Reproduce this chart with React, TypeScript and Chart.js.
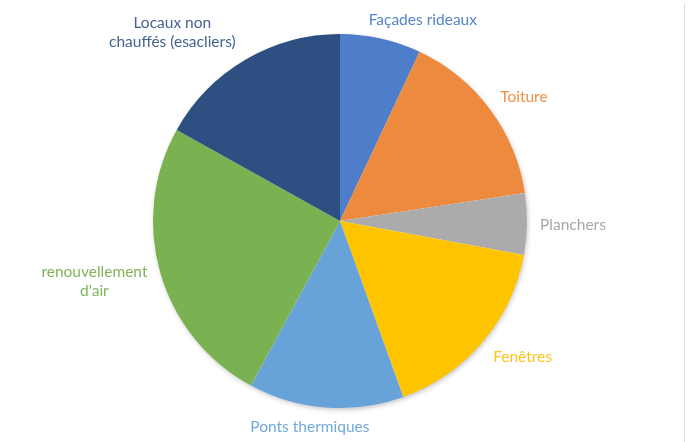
import React, { useEffect, useRef } from "react";
import { Chart, registerables } from "chart.js";

Chart.register(...registerables);

const categories: string[][] = [
  ["Façades rideaux"],
  ["Toiture"],
  ["Planchers"],
  ["Fenêtres"],
  ["Ponts thermiques"],
  ["renouvellement", "d'air"],
  ["Locaux non", "chauffés (esacliers)"],
];
const values: number[] = [7.0, 15.6, 5.3, 16.6, 13.4, 25.2, 16.9];

const sliceColors = ["#4E7DC9", "#ED8A3D", "#ABABAB", "#FFC400", "#67A3D9", "#7BB251", "#2E4F82"];
const labelColors = ["#5583CC", "#EE9048", "#A8A8A8", "#FFC419", "#70A9DC", "#80B55A", "#44628F"];
// label nudges relative to the outer midpoint of each arc
const labelOffsets: [number, number][] = [
  [42, -18.5],
  [34, -12.5],
  [46, 0.7],
  [40, 15.5],
  [-16, 19.6],
  [-66, 8.5],
  [-73, -27],
];

const FONT = '15.5px Lato, sans-serif';
const LINE_H = 19.5;

const labelPlugin = {
  id: "outsideLabels",
  beforeDatasetsDraw(chart: any) {
    const meta = chart.getDatasetMeta(0);
    const arc = meta.data[0];
    if (!arc) return;
    const ctx = chart.ctx;
    ctx.save();
    ctx.shadowColor = "rgba(0,0,0,0.25)";
    ctx.shadowBlur = 5;
    ctx.shadowOffsetX = 1;
    ctx.shadowOffsetY = 2;
    ctx.fillStyle = "#ffffff";
    ctx.beginPath();
    ctx.arc(arc.x, arc.y, arc.outerRadius - 0.5, 0, Math.PI * 2);
    ctx.fill();
    ctx.restore();
  },
  afterDatasetsDraw(chart: any) {
    const ctx = chart.ctx;
    const meta = chart.getDatasetMeta(0);
    ctx.save();
    ctx.font = FONT;
    ctx.textAlign = "center";
    ctx.textBaseline = "middle";
    meta.data.forEach((el: any, i: number) => {
      const mid = (el.startAngle + el.endAngle) / 2;
      const ox = el.x + Math.cos(mid) * el.outerRadius;
      const oy = el.y + Math.sin(mid) * el.outerRadius;
      const [dx, dy] = labelOffsets[i];
      const cx = ox + dx;
      const cy = oy + dy;
      const lines = categories[i];
      ctx.fillStyle = labelColors[i];
      lines.forEach((ln, k) => {
        const y = cy + (k - (lines.length - 1) / 2) * LINE_H;
        ctx.fillText(ln, cx, y);
      });
    });
    ctx.restore();
  },
};

export default function App() {
  const ref = useRef<HTMLCanvasElement>(null);
  useEffect(() => {
    if (!ref.current) return;
    const chart = new Chart(ref.current, {
      type: "pie",
      data: {
        labels: categories.map((c) => c.join(" ")),
        datasets: [
          {
            data: values,
            backgroundColor: sliceColors,
            borderWidth: 0,
          },
        ],
      },
      options: {
        responsive: false,
        animation: false,
        layout: { padding: { left: 153, right: 166, top: 34, bottom: 34 } },
        plugins: {
          legend: { display: false },
          tooltip: { enabled: false },
        },
      },
      plugins: [labelPlugin],
    });
    return () => chart.destroy();
  }, []);
  return (
    <div style={{ position: "fixed", left: 0, top: 0, width: 693, height: 442, background: "#fff" }}>
      <canvas ref={ref} width={693} height={442} style={{ display: "block" }} />
      <div
        style={{
          position: "absolute",
          left: 684,
          top: 3,
          width: 1,
          height: 439,
          background: "#DDDDDD",
        }}
      />
    </div>
  );
}
